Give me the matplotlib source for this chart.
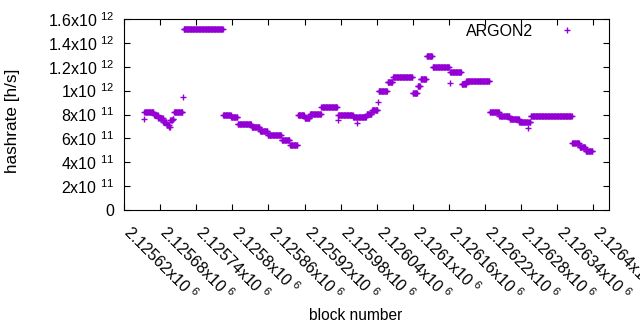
import numpy as np
import matplotlib
matplotlib.use('Agg')
import matplotlib.pyplot as plt
from matplotlib.ticker import FixedLocator, FixedFormatter

plt.rcParams['font.family'] = ['Liberation Sans', 'DejaVu Sans']
plt.rcParams['mathtext.fontset'] = 'custom'
plt.rcParams['mathtext.rm'] = 'Liberation Sans'
plt.rcParams['mathtext.it'] = 'Liberation Sans'
plt.rcParams['mathtext.default'] = 'regular'

# runs of blocks with (roughly) constant hashrate
run_start = [2125653, 2125654, 2125670, 2125677, 2125685, 2125691, 2125695, 2125697,
             2125701, 2125703, 2125718, 2125719, 2125785, 2125798, 2125809, 2125832,
             2125846, 2125859, 2125882, 2125896, 2125909, 2125920, 2125929, 2125948,
             2125975, 2125976, 2126001, 2126007, 2126008, 2126023, 2126032, 2126042,
             2126043, 2126058, 2126067, 2126100, 2126108, 2126113, 2126123, 2126133,
             2126161, 2126162, 2126181, 2126189, 2126228, 2126244, 2126261, 2126277,
             2126291, 2126292, 2126296, 2126365, 2126377, 2126387]
run_end = [2125653, 2125669, 2125676, 2125684, 2125690, 2125694, 2125696, 2125700,
           2125702, 2125717, 2125718, 2125784, 2125797, 2125808, 2125831, 2125845,
           2125858, 2125881, 2125895, 2125908, 2125919, 2125928, 2125947, 2125974,
           2125975, 2126000, 2126006, 2126007, 2126022, 2126031, 2126041, 2126042,
           2126057, 2126066, 2126099, 2126107, 2126112, 2126122, 2126132, 2126160,
           2126161, 2126180, 2126188, 2126227, 2126243, 2126260, 2126276, 2126290,
           2126291, 2126295, 2126364, 2126376, 2126386, 2126398]
run_hashrate = [7.6, 8.2, 7.95, 7.7, 7.4, 7.15, 6.95, 7.5,
                7.65, 8.2, 9.47, 15.16, 8.0, 7.8, 7.2, 6.95,
                6.6, 6.3, 5.9, 5.45, 7.95, 7.7, 8.05, 8.6,
                7.55, 8.0, 7.8, 7.3, 7.8, 8.05, 8.35, 9.05,
                9.95, 10.7, 11.15, 9.8, 10.4, 11.0, 12.9, 12.0,
                10.64, 11.55, 10.55, 10.8, 8.2, 7.9, 7.6, 7.4,
                6.9, 7.35, 7.9, 5.6, 5.3, 4.95]  # x 1e11 h/s

x_ticks = [2125620, 2125680, 2125740, 2125800, 2125860, 2125920, 2125980,
           2126040, 2126100, 2126160, 2126220, 2126280, 2126340, 2126400]
x_labels = ['2.12562', '2.12568', '2.12574', '2.1258', '2.12586', '2.12592', '2.12598',
            '2.12604', '2.1261', '2.12616', '2.12622', '2.12628', '2.12634', '2.1264']
y_ticks = [0, 2e11, 4e11, 6e11, 8e11, 1e12, 1.2e12, 1.4e12, 1.6e12]
y_labels = ['0', '2x10$\\ ^{11}$', '4x10$\\ ^{11}$', '6x10$\\ ^{11}$', '8x10$\\ ^{11}$',
            '1x10$\\ ^{12}$', '1.2x10$\\ ^{12}$', '1.4x10$\\ ^{12}$', '1.6x10$\\ ^{12}$']

blocks = np.concatenate([np.arange(s, e + 1) for s, e in zip(run_start, run_end)])
hashrate = np.concatenate([np.full(e - s + 1, v * 1e11)
                           for s, e, v in zip(run_start, run_end, run_hashrate)])

fig = plt.figure(figsize=(6.4, 3.3), dpi=100)
ax = fig.add_axes([124 / 640, 1 - 210 / 330, 485 / 640, 191 / 330])

ax.plot(blocks, hashrate, linestyle='none', marker='+', color='#9400d3',
        markersize=5, markeredgewidth=1.0, antialiased=False, label='ARGON2')

ax.set_xlim(2125620, 2126426)
ax.set_ylim(0, 1.6e12)
ax.xaxis.set_major_locator(FixedLocator(x_ticks))
# leading space nudges the rotated labels so they start at the tick, like gnuplot
ax.xaxis.set_major_formatter(FixedFormatter([' ' + l + 'x10$\\ ^{6}$' for l in x_labels]))
ax.yaxis.set_major_locator(FixedLocator(y_ticks))
ax.yaxis.set_major_formatter(FixedFormatter(y_labels))
ax.tick_params(direction='in', length=4, width=0.8, top=True, right=True,
               labelsize=11.5)
ax.tick_params(axis='y', pad=7)
ax.tick_params(axis='x', pad=11.3)
for lab in ax.get_xticklabels():
    lab.set_rotation(-45)
    lab.set_rotation_mode('anchor')
    lab.set_ha('left')
    lab.set_va('center')
for sp in ax.spines.values():
    sp.set_linewidth(0.8)

ax.set_xlabel('block number', fontsize=11.2)
ax.xaxis.set_label_coords((356 - 124) / 485, (210 - 316) / 191)
ax.xaxis.label.set_va('center')
ax.set_ylabel('hashrate [h/s]', fontsize=12.3)
ax.yaxis.set_label_coords((13 - 124) / 485, (210 - 121) / 191)
ax.yaxis.label.set_va('center')

ax.legend(loc='upper right', markerfirst=False, frameon=False, fontsize=11.5,
          handlelength=3, handletextpad=0.65, borderpad=0, borderaxespad=0,
          bbox_to_anchor=(0.963, 0.975))

fig.savefig('out.png', dpi=100)
